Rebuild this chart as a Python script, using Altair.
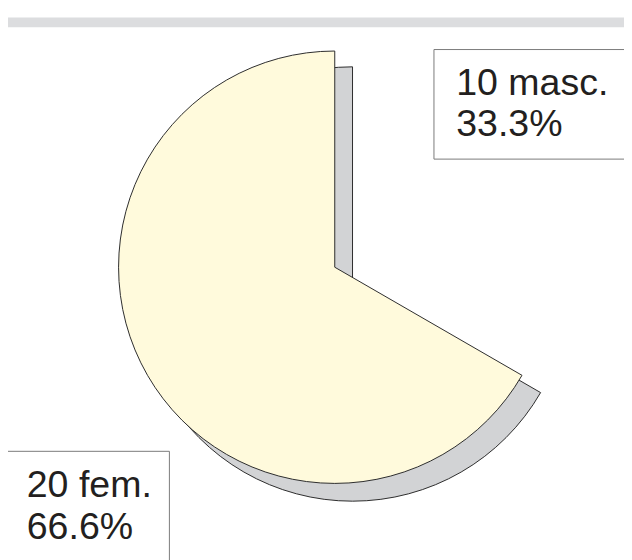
import altair as alt
import pandas as pd

# ---- data ----
sexes = ["masc.", "fem."]
counts = [10, 20]
pcts = ["33.3", "66.6"]
order = [0, 1]

df = pd.DataFrame({"sex": sexes, "n": counts, "pct": pcts, "ord": order})
one = pd.DataFrame({"k": [0]})

FONT = "Liberation Sans"
TXT = "#231f20"

band = alt.Chart(one).mark_rect(fill="#dcdddf").encode(
    x=alt.value(-8), x2=alt.value(640), y=alt.value(6), y2=alt.value(16)
)

opac = alt.Opacity("sex:N", scale=alt.Scale(domain=["masc.", "fem."], range=[0, 1]), legend=None)

shadow = alt.Chart(df).mark_arc(radius=220, fill="#d2d3d5", stroke="#2b2b2b", strokeWidth=1).encode(
    theta=alt.Theta("n:Q", stack=True),
    order=alt.Order("ord:Q"),
    opacity=opac,
    x=alt.value(349), y=alt.value(276),
)

pie = alt.Chart(df).mark_arc(radius=219, fill="#fffadc", stroke="#2b2b2b", strokeWidth=1).encode(
    theta=alt.Theta("n:Q", stack=True),
    order=alt.Order("ord:Q"),
    opacity=opac,
    x=alt.value(331), y=alt.value(259),
)

box_m = alt.Chart(one).mark_rect(fill="white", stroke="#7a7a7a", strokeWidth=1).encode(
    x=alt.value(431.5), x2=alt.value(700), y=alt.value(38.5), y2=alt.value(149.5)
)
box_f = alt.Chart(one).mark_rect(fill="white", stroke="#7a7a7a", strokeWidth=1).encode(
    x=alt.value(-0.5), x2=alt.value(163.5), y=alt.value(445.5), y2=alt.value(700)
)

def label(sex, x, y1, y2):
    base = alt.Chart(df).transform_filter(alt.datum.sex == sex).transform_calculate(
        l1="datum.n + ' ' + datum.sex", l2="datum.pct + '%'"
    )
    kw = dict(align="left", baseline="alphabetic", font=FONT, fontSize=38, color=TXT)
    a = base.mark_text(**kw).encode(text="l1:N", x=alt.value(x), y=alt.value(y1))
    b = base.mark_text(**kw).encode(text="l2:N", x=alt.value(x), y=alt.value(y2))
    return a + b

chart = alt.layer(
    band, shadow, pie, box_m, box_f,
    label("masc.", 454, 85, 126),
    label("fem.", 19, 492, 534),
).properties(
    width=624, height=552, padding=0, background="white",
    autosize=alt.AutoSizeParams(type="none"),
).configure_view(stroke=None)

chart.save("out.html", embed_options={"renderer": "svg", "actions": False})
